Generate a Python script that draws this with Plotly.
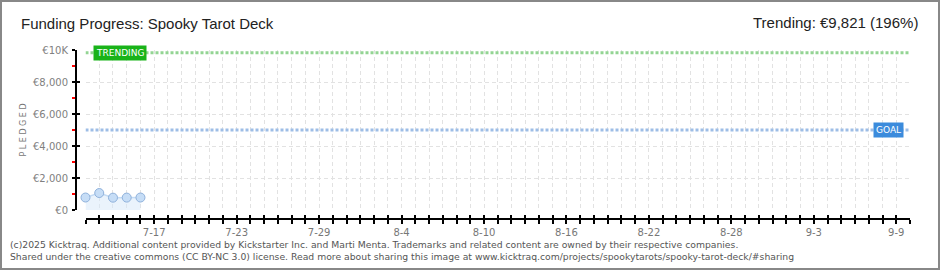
import plotly.graph_objects as go
import pandas as pd

# ---------------- data ----------------
dates = ["2025-07-12", "2025-07-13", "2025-07-14", "2025-07-15", "2025-07-16"]
pledged = [780, 1060, 770, 775, 780]
goal = 5000
trending = 9821
x_start = "2025-07-12"
x_end = "2025-09-10"
y_tickvals = [0, 2000, 4000, 6000, 8000, 10000]
y_ticktext = ["€0", "€2,000", "€4,000", "€6,000", "€8,000", "€10K"]
y_minorvals = [1000, 3000, 5000, 7000, 9000]
label_every = 6
first_label = "2025-07-17"

title = "Funding Progress: Spooky Tarot Deck"
trend_text = "Trending: €9,821 (196%)"
footer1 = "(c)2025 Kicktraq. Additional content provided by Kickstarter Inc. and Marti Menta. Trademarks and related content are owned by their respective companies."
footer2 = "Shared under the creative commons (CC BY-NC 3.0) license. Read more about sharing this image at www.kicktraq.com/projects/spookytarots/spooky-tarot-deck/#sharing"

# ---------------- layout geometry ----------------
W, H = 940, 270
L, R, T, B = 76, 910, 50, 219
pw, ph = R - L, B - T


def px(x):
    return (x - L) / pw


def py(y):
    return (B - y) / ph


days = pd.date_range(x_start, x_end, freq="D")
tickvals = [d.strftime("%Y-%m-%d") for d in days]
ticktext = []
fl = pd.Timestamp(first_label)
for d in days:
    diff = (d - fl).days
    ticktext.append(f"{d.month}-{d.day}" if diff >= 0 and diff % label_every == 0 else "")

FONT = "DejaVu Sans"
GRID = "#e2e2e2"

fig = go.Figure()

# goal & trending lines
fig.add_trace(go.Scatter(x=[x_start, x_end], y=[trending, trending], mode="lines",
                         line=dict(color="#93d493", width=3, dash="3px,2px"),
                         hoverinfo="skip", showlegend=False))
fig.add_trace(go.Scatter(x=[x_start, x_end], y=[goal, goal], mode="lines",
                         line=dict(color="#9dbde6", width=3, dash="3px,2px"),
                         hoverinfo="skip", showlegend=False))

# pledged series
fig.add_trace(go.Scatter(x=dates, y=pledged, mode="lines+markers",
                         fill="tozeroy", fillcolor="rgba(214,232,250,0.5)",
                         line=dict(color="#c4dbf4", width=1.5),
                         marker=dict(size=9, color="#c6ddf6",
                                     line=dict(color="#8fb1db", width=1)),
                         cliponaxis=False, showlegend=False))

# empty trace to create overlay axes (for crossing ticks)
fig.add_trace(go.Scatter(x=[], y=[], xaxis="x2", yaxis="y2", showlegend=False))

xdom = [px(85.5), 1]
ydom = [py(210), 1]

fig.update_layout(
    width=W, height=H,
    margin=dict(l=L, r=W - R, t=T, b=H - B),
    paper_bgcolor="white", plot_bgcolor="white",
    font=dict(family=FONT, color="#777", size=10),
    xaxis=dict(type="date", range=[x_start, x_end], domain=xdom,
               anchor="free", position=0,
               tickmode="array", tickvals=tickvals, ticktext=ticktext,
               ticks="outside", ticklen=4, tickwidth=1.5, tickcolor="black",
               showline=True, linecolor="black", linewidth=2,
               showgrid=True, gridcolor=GRID, griddash="4px,3px", gridwidth=1,
               tickfont=dict(size=10, color="#777"), zeroline=False),
    xaxis2=dict(type="date", range=[x_start, x_end], domain=xdom,
                overlaying="x", anchor="free", position=0,
                tickmode="array", tickvals=tickvals, ticktext=[""] * len(tickvals),
                ticks="inside", ticklen=4, tickwidth=1.5, tickcolor="black",
                showline=False, showgrid=False, showticklabels=False),
    yaxis=dict(range=[0, 10000], domain=ydom, anchor="free", position=0,
               tickmode="array", tickvals=y_tickvals, ticktext=y_ticktext,
               ticks="outside", ticklen=3, tickwidth=1.5, tickcolor="black",
               showline=True, linecolor="black", linewidth=2,
               showgrid=True, gridcolor=GRID, griddash="4px,3px",
               zeroline=False, tickfont=dict(size=10, color="#808080"),
               ticklabelstandoff=2,
               minor=dict(tickmode="array", tickvals=y_minorvals, ticks="outside",
                          ticklen=3, tickcolor="red", tickwidth=1.5, showgrid=False),
               title=dict(text="P L E D G E D", font=dict(size=8, color="#777"), standoff=4)),
    yaxis2=dict(range=[0, 10000], domain=ydom, overlaying="y", anchor="free", position=0,
                tickmode="array", tickvals=y_tickvals, ticktext=[""] * len(y_tickvals),
                ticks="inside", ticklen=3, tickwidth=1.5, tickcolor="black",
                showline=False, showgrid=False, showticklabels=False),
)

ann = []
ann.append(dict(text=title, xref="paper", yref="paper", x=px(19), y=py(23),
                xanchor="left", yanchor="middle", showarrow=False,
                font=dict(family="Liberation Sans", size=15, color="#222")))
ann.append(dict(text=trend_text, xref="paper", yref="paper", x=px(920), y=py(22),
                xanchor="right", yanchor="middle", showarrow=False,
                font=dict(family="Liberation Sans", size=15, color="#222")))
ann.append(dict(text=footer1, xref="paper", yref="paper", x=px(8), y=py(244),
                xanchor="left", yanchor="middle", showarrow=False,
                font=dict(family=FONT, size=9.25, color="#555")))
ann.append(dict(text=footer2, xref="paper", yref="paper", x=px(8), y=py(256),
                xanchor="left", yanchor="middle", showarrow=False,
                font=dict(family=FONT, size=9.25, color="#555")))
# labels
ann.append(dict(text="TRENDING", xref="paper", yref="y", x=px(93), y=trending,
                xanchor="left", yanchor="middle", showarrow=False,
                bgcolor="#19b319", borderpad=2,
                font=dict(family=FONT, size=9, color="white")))
ann.append(dict(text="GOAL", xref="paper", yref="y", x=px(904), y=goal,
                xanchor="right", yanchor="middle", showarrow=False,
                bgcolor="#3b8bdc", borderpad=2,
                font=dict(family=FONT, size=9, color="white")))
fig.update_layout(annotations=ann)

# outer border
fig.add_shape(type="rect", xref="paper", yref="paper",
              x0=px(1), x1=px(939), y0=py(1), y1=py(269),
              line=dict(color="#888", width=2), layer="above")

fig.write_html("out.html")
